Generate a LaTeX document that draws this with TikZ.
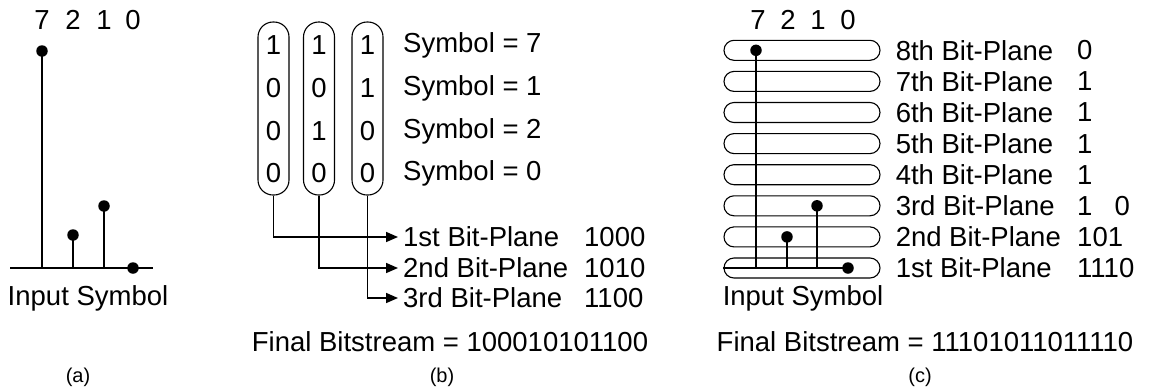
\documentclass[tikz,border=0pt]{standalone}
\usepackage{fontspec}
\setmainfont{Liberation Sans}
\usetikzlibrary{arrows.meta,positioning,calc}
\tikzset{
  txt/.style={inner sep=0pt, font=\fontsize{27.5}{32}\selectfont},
  tag/.style={inner sep=0pt, font=\fontsize{20}{24}\selectfont},
  vcol/.style={draw, line width=1.1pt, rounded corners=15pt, minimum width=31pt, minimum height=173pt, inner sep=0pt},
  hcol/.style={draw, line width=1.1pt, rounded corners=10pt, minimum width=156pt, minimum height=20pt, inner sep=0pt},
  blob/.style={circle, fill, inner sep=0pt, minimum size=11.5pt},
  wire/.style={line width=1.6pt},
  feed/.style={wire, -{Triangle[length=12pt,width=10pt]}}
}
\begin{document}
\begin{tikzpicture}[x=1pt,y=-1pt]
\useasboundingbox (0,0) rectangle (1151,389);
% (a) input symbols
\coordinate (aL) at (10,268);
\coordinate (aR) at (153,268);
\draw[wire] (aL) -- (aR);
\foreach \n/\x/\y in {7/42/51, 2/73/235, 1/104/206, 0/133/268}{
  \coordinate (a\n) at (\x,\y);
  \node[txt] (an\n) at (\x,20) {\n};
}
\foreach \n in {7,2,1}
  \draw[wire] (a\n) -- (a\n |- aL);
\foreach \n in {7,2,1,0}
  \node[blob] at (a\n) {};
\node[txt] (ain) at (88,298) {Input Symbol};
\node[tag] (ta) at (78,377) {(a)};
% (b) bit columns
\foreach \n/\x in {A/273.5, B/319, C/367.5}
  \node[vcol] (col\n) at (\x,108.5) {};
\foreach \r/\y/\a/\b/\c/\s in {1/45/1/1/1/7, 2/88/0/0/1/1, 3/131/0/1/0/2, 4/173/0/0/0/0}{
  \node[txt] (dA\r) at (colA |- 0,\y) {\a};
  \node[txt] (dB\r) at (colB |- 0,\y) {\b};
  \node[txt] (dC\r) at (colC |- 0,\y) {\c};
  \node[txt, anchor=west] (sym\r) at (403,\y) {Symbol = \s};
}
\foreach \r/\n/\lab/\val/\y in {1/A/1st/1000/237, 2/B/2nd/1010/268, 3/C/3rd/1100/298}{
  \node[txt, anchor=west] (bp\r) at (403,\y) {\lab\ Bit-Plane};
  \node[txt, anchor=west] (bv\r) at (584,\y) {\val};
  \draw[feed] (col\n.south) |- ([xshift=-5pt]bp\r.west);
}
\node[txt] (fbb) at (450,342) {Final Bitstream = 100010101100};
\node[tag] (tb) at (442,377) {(b)};
% (c) bit planes
\foreach \i/\lab/\val in {1/1st/1110, 2/2nd/101, 3/3rd/{1\hspace{22pt}0}, 4/4th/1, 5/5th/1, 6/6th/1, 7/7th/1, 8/8th/0}{
  \node[hcol] (pl\i) at (802,{268-(\i-1)*31.1}) {};
  \node[txt, anchor=west] (pn\i) at ([xshift=15pt]pl\i.east) {\lab\ Bit-Plane};
  \node[txt, anchor=west] (pv\i) at (1077,{268-(\i-1)*31.1}) {\val};
}
\foreach \n/\x in {7/758, 2/788, 1/818, 0/848}
  \node[txt] (cn\n) at (\x,20) {\n};
\coordinate (c7) at (pl8 -| 756,0);
\coordinate (c2) at (pl2 -| 787,0);
\coordinate (c1) at (pl3 -| 817,0);
\coordinate (c0) at (pl1 -| 848,0);
\draw[wire] (pl1.west) -- (c0);
\foreach \n in {7,2,1}
  \draw[wire] (c\n) -- (c\n |- pl1);
\foreach \n in {7,2,1,0}
  \node[blob] at (c\n) {};
\node[txt] (cin) at (803,298) {Input Symbol};
\node[txt] (fbc) at (925,342) {Final Bitstream = 11101011011110};
\node[tag] (tc) at (920,377) {(c)};
\end{tikzpicture}
\end{document}
